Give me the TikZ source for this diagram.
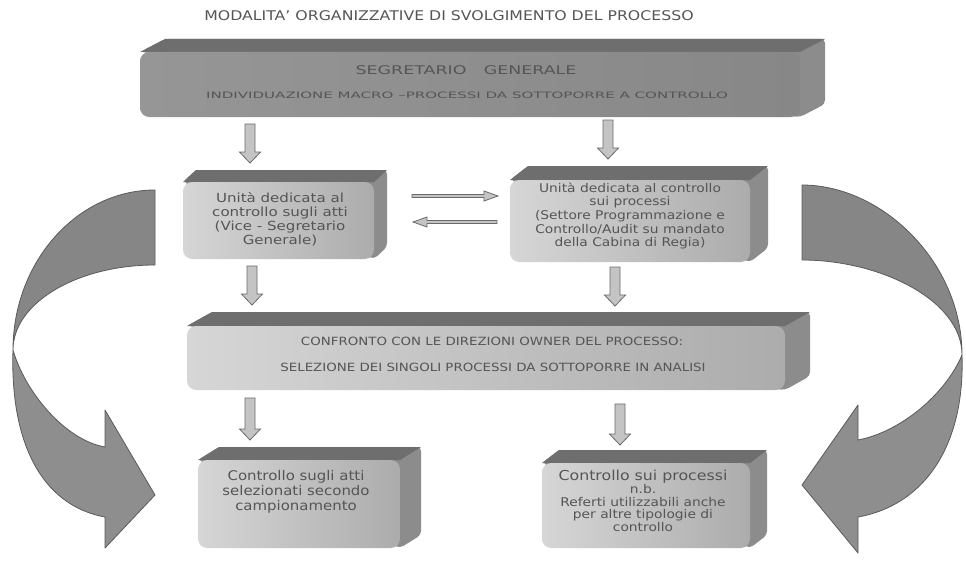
\documentclass[tikz,border=0pt]{standalone}
\usepackage{fontspec}
\setmainfont{DejaVu Sans}
\usetikzlibrary{calc}
\definecolor{txt}{HTML}{555555}
\definecolor{bigar}{HTML}{8E8E8E}
\definecolor{bigarup}{HTML}{868686}
\definecolor{bigline}{HTML}{5A5A5A}
\definecolor{topf}{HTML}{6E6E6E}
\definecolor{sidef}{HTML}{8C8C8C}
\definecolor{frontl}{HTML}{D6D6D6}
\definecolor{frontr}{HTML}{ACACAC}
\definecolor{darkfront}{HTML}{969696}
\definecolor{arfill}{HTML}{C4C4C4}
\definecolor{arline}{HTML}{6A6A6A}
\tikzset{
  bigarrow/.style={fill=bigar,draw=bigline,line width=0.6pt,line join=round},
  bigarrowup/.style={fill=bigarup,draw=bigline,line width=0.6pt,line join=round},
  blockar/.style={fill=arfill,draw=arline,line width=0.6pt,line join=miter},
  sideface/.style={fill=sidef,draw=none,rounded corners=3},
  topface/.style={fill=topf,draw=none},
  frontface/.style={left color=frontl,right color=frontr,draw=none,rounded corners=7},
  boxtext/.style={text=txt,align=center,font=\fontsize{9.4}{10.5}\selectfont,xscale=1.2},
  boxtextb/.style={text=txt,align=center,font=\fontsize{9}{10.2}\selectfont,xscale=1.15},
  bigtext/.style={text=txt,align=center,font=\fontsize{10}{11.2}\selectfont,xscale=1.12},
  captext/.style={text=txt,align=center,font=\fontsize{8.5}{10}\selectfont,xscale=1.18},
}
% 3D box: #2 x1, #3 y1, #4 x2, #5 y2 (front face), #6 dx, #7 dy
\newcommand\tdbox[7][frontface]{%
  \fill[sideface] (#2,#3) -- (#2+#6,#3-#7) -- (#4+#6,#3-#7) -- (#4+#6,#5-#7) -- (#4,#5) -- cycle;
  \fill[topface] (#2,#3) -- (#2+#6,#3-#7) -- (#4+#6,#3-#7) -- (#4,#3) -- cycle;
  \path[#1] (#2,#3) rectangle (#4,#5);
}
% down block arrow: x, ytop, ybottom
\newcommand\dnarrow[3]{%
  \draw[blockar] (#1-5,#2) -- (#1+5,#2) -- (#1+5,#3-11) -- (#1+10.5,#3-11) -- (#1,#3)
    -- (#1-10.5,#3-11) -- (#1-5,#3-11) -- cycle;
}
\begin{document}
\begin{tikzpicture}[x=0.75pt,y=-0.75pt]
\useasboundingbox (0,0) rectangle (966,560);
\fill[white] (0,0) rectangle (966,560);

% title
\node[text=txt,font=\fontsize{10}{12}\selectfont,xscale=1.18] (title) at (449,16) {MODALITA’ ORGANIZZATIVE DI SVOLGIMENTO DEL PROCESSO};

% big curved arrows
\path[bigarrowup] (155,190) -- (155,265) .. controls (77,265) and (13,303) .. (13,350)
   .. controls (13,262) and (77,190) .. (155,190) -- cycle;
\path[bigarrow] (13,350) .. controls (10,440) and (40,505) .. (105,517) -- (105,548) -- (155,495)
   -- (105,410) -- (105,447) .. controls (65,440) and (25,392) .. (13,350) -- cycle;
\path[bigarrowup] (802,185) -- (802,260) .. controls (880,260) and (962,300) .. (962,355)
   .. controls (962,262) and (882,185) .. (802,185) -- cycle;
\path[bigarrow] (962,355) .. controls (965,445) and (925,505) .. (858,517) -- (858,553) -- (802,485)
   -- (858,405) -- (858,440) .. controls (900,432) and (945,395) .. (962,355) -- cycle;

% top box
\tdbox[frontface,left color=darkfront,right color=darkfront!90!black]{140}{52}{800}{117}{25}{13}
\node[captext,font=\fontsize{9}{11}\selectfont,xscale=1.23] (sg) at (466,70) {SEGRETARIO\hspace{1em}GENERALE};
\node[captext,font=\fontsize{6.6}{8}\selectfont,xscale=1.45] (sg2) at (467,95) {INDIVIDUAZIONE MACRO –PROCESSI DA SOTTOPORRE A CONTROLLO};

\dnarrow{250}{124}{163}
\dnarrow{608}{120}{159}

% second row
\tdbox{183}{182}{374}{259}{13}{12}
\node[boxtext] (ua) at (280,219) {Unità dedicata al\\controllo sugli atti\\(Vice - Segretario\\Generale)};
\tdbox{510}{180}{750}{262}{18}{14}
\node[boxtextb] (up) at (630,216) {Unità dedicata al controllo\\sui processi\\(Settore Programmazione e\\Controllo/Audit su mandato\\della Cabina di Regia)};

% horizontal arrows
\draw[blockar] (412,194.5) -- (484,194.5) -- (484,191) -- (498,196) -- (484,201) -- (484,197.5) -- (412,197.5) -- cycle;
\draw[blockar] (497,220.5) -- (427,220.5) -- (427,217) -- (413,222) -- (427,227) -- (427,223.5) -- (497,223.5) -- cycle;

\dnarrow{252}{266}{305}
\dnarrow{615}{267}{306}

% third row
\tdbox{187}{326}{785}{390}{25}{14}
\node[captext] (conf) at (492,341) {CONFRONTO CON LE DIREZIONI OWNER DEL PROCESSO:};
\node[captext] (sel) at (493,367) {SELEZIONE DEI SINGOLI PROCESSI DA SOTTOPORRE IN ANALISI};

\dnarrow{250}{398}{440}
\dnarrow{620}{404}{445}

% bottom row
\tdbox{198}{460}{400}{548}{21}{13}
\node[bigtext] (ca) at (296,492) {Controllo sugli atti\\selezionati secondo\\campionamento};
\tdbox{542}{463}{750}{548}{17}{13}
\node[boxtextb,font=\fontsize{9}{9.6}\selectfont] (cp) at (643,501) {{\fontsize{10.3}{10}\selectfont Controllo sui processi}\\n.b.\\Referti utilizzabili anche\\per altre tipologie di\\controllo};
\end{tikzpicture}
\end{document}
